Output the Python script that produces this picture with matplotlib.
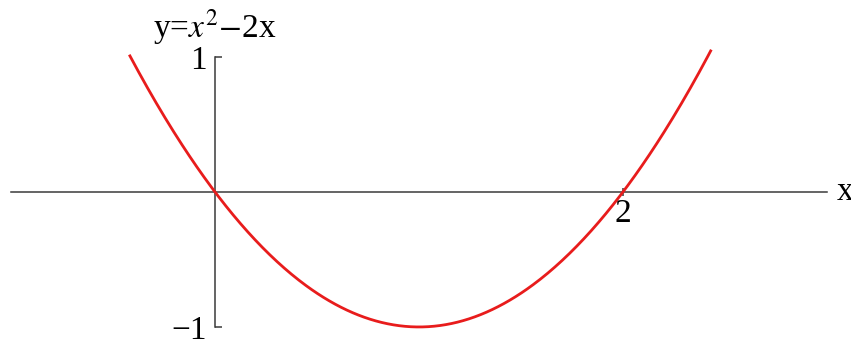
import numpy as np
import matplotlib.pyplot as plt

plt.rcParams['font.family'] = 'Liberation Serif'
plt.rcParams['mathtext.fontset'] = 'stix'

# curve y = x^2 - 2x, sampled over the visible range
x_start, x_end = -0.417, 2.43
x_ticks = [2]
x_tick_labels = ['2']
y_ticks = [-1, 1]
y_tick_labels = ['\u22121', '1']

xs = np.linspace(x_start, x_end, 400)
ys = xs ** 2 - 2 * xs

fig = plt.figure(figsize=(8.51, 3.41), dpi=100)
ax = fig.add_axes([0, 0, 1, 1])
ax.set_xlim(-1.054, 3.118)
ax.set_ylim(-1.104, 1.422)

ax.plot(xs, ys, color='#e81c1c', lw=2.0, zorder=3)

axis_color = '#3a3a3a'
for side in ['top', 'right']:
    ax.spines[side].set_visible(False)
ax.spines['left'].set_position(('data', 0))
ax.spines['bottom'].set_position(('data', 0))
ax.spines['left'].set_bounds(-1, 1)
ax.spines['bottom'].set_bounds(-1, 3)
for side in ['left', 'bottom']:
    ax.spines[side].set_color(axis_color)
    ax.spines[side].set_linewidth(1.1)

ax.set_xticks(x_ticks)
ax.set_xticklabels(x_tick_labels)
ax.set_yticks(y_ticks)
ax.set_yticklabels(y_tick_labels)
ax.tick_params(axis='y', direction='in', length=5, width=1.1, color=axis_color,
               labelsize=24, pad=6)
ax.tick_params(axis='x', direction='inout', length=6, width=1.1, color=axis_color,
               labelsize=24, pad=2)
# the "1" label sits a little above its tick
ax.get_yticklabels()[1].set_y(1.03)

ax.text(3.05, 0, 'x', fontsize=24, ha='left', va='center')
ax.text(0, 1.22, r'y=$x^2$$-$2x', fontsize=24, ha='center', va='center')

fig.savefig('out.png', dpi=100)
